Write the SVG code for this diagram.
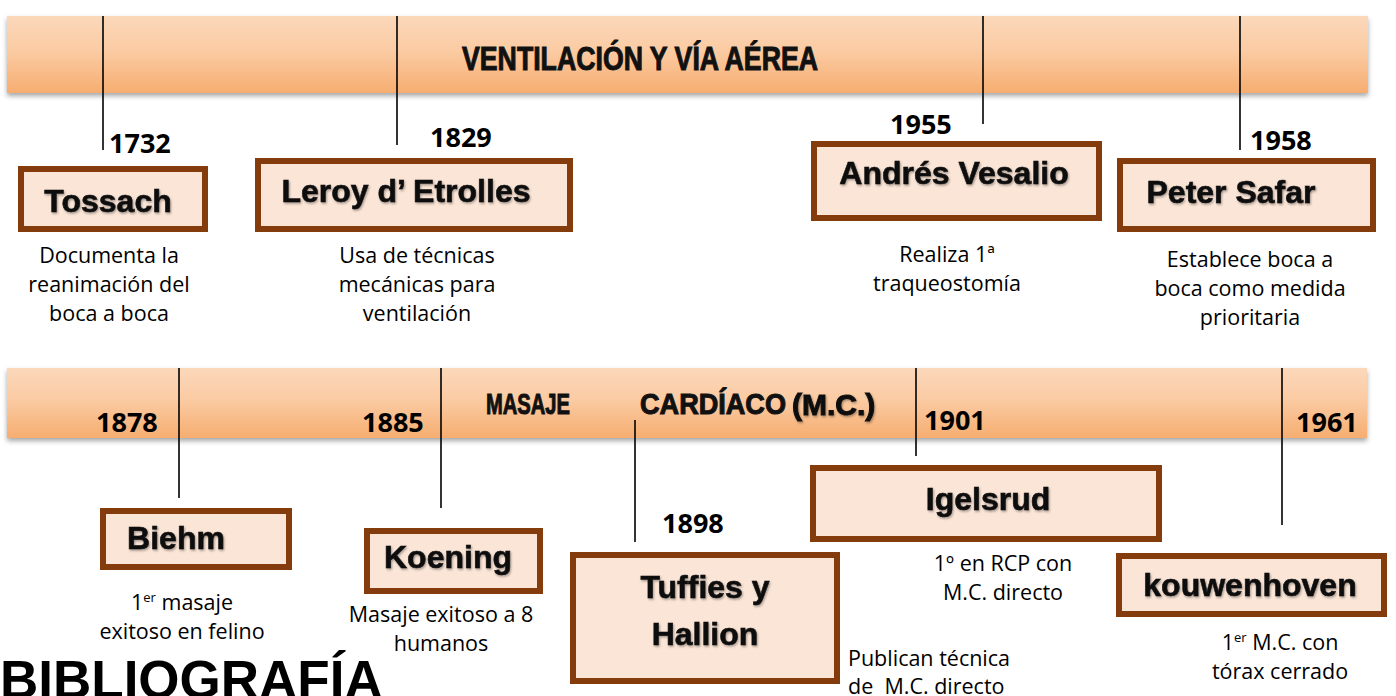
<svg xmlns="http://www.w3.org/2000/svg" width="1396" height="696" viewBox="0 0 1396 696">
<defs>
<linearGradient id="bandGrad" x1="0" y1="0" x2="0" y2="1">
<stop offset="0" stop-color="#fbd8bb"/>
<stop offset="0.45" stop-color="#fbcba3"/>
<stop offset="1" stop-color="#f6ad70"/>
</linearGradient>
<filter id="shadow" x="-5%" y="-20%" width="110%" height="150%">
<feDropShadow dx="0" dy="3" stdDeviation="2.5" flood-color="#000" flood-opacity="0.35"/>
</filter>
<filter id="txtShadow" x="-5%" y="-20%" width="110%" height="150%">
<feDropShadow dx="1" dy="1.5" stdDeviation="0.8" flood-color="#000" flood-opacity="0.35"/>
</filter>
</defs>
<style>
.band{fill:url(#bandGrad);filter:url(#shadow);}
.box{fill:#fbe5d6;stroke:#843c0c;stroke-width:6;}
.name{font-family:"Liberation Sans",Arial,sans-serif;font-weight:700;font-size:32px;fill:#111;text-anchor:middle;stroke:#111;stroke-width:0.6;filter:url(#txtShadow);}
.year{font-family:"Open Sans","Liberation Sans",sans-serif;font-weight:700;font-size:27px;fill:#000;}
.desc{font-family:"Open Sans","Liberation Sans",sans-serif;font-size:21.5px;fill:#000;text-anchor:middle;}
.descl{font-family:"Open Sans","Liberation Sans",sans-serif;font-size:21.5px;fill:#000;text-anchor:start;white-space:pre;}
.sup{font-size:13px;}
.title{font-family:"Liberation Sans",Arial,sans-serif;font-weight:700;fill:#111;stroke:#111;stroke-width:1;}
.line{stroke:#000;stroke-width:1.6;fill:none;}
</style>
<rect x="0" y="0" width="1396" height="696" fill="#fff"/>

<g id="banner-ventilacion">
<rect class="band" x="7" y="16" width="1361" height="77"/>
<text class="title" x="462" y="70" font-size="33" textLength="356" lengthAdjust="spacingAndGlyphs">VENTILACIÓN Y VÍA AÉREA</text>
</g>
<g id="banner-masaje">
<rect class="band" x="7" y="368" width="1360" height="70"/>
<text class="title" x="486" y="414" font-size="29" textLength="84" lengthAdjust="spacingAndGlyphs">MASAJE</text>
<text class="title" x="640" y="414" font-size="29" textLength="146" lengthAdjust="spacingAndGlyphs">CARDÍACO</text>
<text class="title" x="792" y="415" font-size="30" stroke-width="0.3" style="filter:url(#txtShadow)">(M.C.)</text>
</g>

<g id="connectors">
<line class="line" x1="103" y1="16" x2="103" y2="150"/>
<line class="line" x1="397" y1="16" x2="397" y2="145"/>
<line class="line" x1="983" y1="16" x2="983" y2="124"/>
<line class="line" x1="1240" y1="16" x2="1240" y2="150"/>
<line class="line" x1="179" y1="368" x2="179" y2="498"/>
<line class="line" x1="441" y1="368" x2="441" y2="508"/>
<line class="line" x1="635" y1="420" x2="635" y2="542"/>
<line class="line" x1="916" y1="368" x2="916" y2="456"/>
<line class="line" x1="1282" y1="368" x2="1282" y2="525"/>
</g>

<g id="node-tossach">
<text class="year" x="109" y="153">1732</text>
<rect class="box" x="21" y="169" width="184" height="60"/>
<text class="name" x="108" y="212">Tossach</text>
<text class="desc" x="109" y="263">Documenta la</text>
<text class="desc" x="109" y="292">reanimación del</text>
<text class="desc" x="109" y="321">boca a boca</text>
</g>

<g id="node-leroy">
<text class="year" x="430" y="147">1829</text>
<rect class="box" x="258" y="161" width="312" height="68"/>
<text class="name" x="406" y="202">Leroy d’ Etrolles</text>
<text class="desc" x="417" y="263">Usa de técnicas</text>
<text class="desc" x="417" y="292">mecánicas para</text>
<text class="desc" x="417" y="321">ventilación</text>
</g>

<g id="node-vesalio">
<text class="year" x="890" y="134">1955</text>
<rect class="box" x="814" y="144" width="285" height="74"/>
<text class="name" x="954" y="184">Andrés Vesalio</text>
<text class="desc" x="947" y="262">Realiza 1ª</text>
<text class="desc" x="947" y="291">traqueostomía</text>
</g>

<g id="node-safar">
<text class="year" x="1250" y="150">1958</text>
<rect class="box" x="1120" y="161" width="253" height="68"/>
<text class="name" x="1231" y="203">Peter Safar</text>
<text class="desc" x="1250" y="267">Establece boca a</text>
<text class="desc" x="1250" y="296">boca como medida</text>
<text class="desc" x="1250" y="325">prioritaria</text>
</g>

<g id="node-biehm">
<text class="year" x="96" y="432">1878</text>
<rect class="box" x="103" y="511" width="186" height="56"/>
<text class="name" x="176" y="549">Biehm</text>
<text class="desc" x="182" y="610">1<tspan class="sup" dy="-8">er</tspan><tspan dy="8"> masaje</tspan></text>
<text class="desc" x="182" y="639">exitoso en felino</text>
</g>

<g id="node-koening">
<text class="year" x="362" y="432">1885</text>
<rect class="box" x="367" y="531" width="173" height="60"/>
<text class="name" x="448" y="568">Koening</text>
<text class="desc" x="441" y="622">Masaje exitoso a 8</text>
<text class="desc" x="441" y="651">humanos</text>
</g>

<g id="node-tuffies">
<text class="year" x="662" y="533">1898</text>
<rect class="box" x="573" y="555" width="264" height="126"/>
<text class="name" x="705" y="598">Tuffies y</text>
<text class="name" x="705" y="645">Hallion</text>
<text class="descl" x="848" y="666">Publican técnica</text>
<text class="descl" x="848" y="694" xml:space="preserve">de  M.C. directo</text>
</g>

<g id="node-igelsrud">
<text class="year" x="924" y="430">1901</text>
<rect class="box" x="813" y="468" width="346" height="71"/>
<text class="name" x="988" y="510">Igelsrud</text>
<text class="desc" x="1003" y="571">1º en RCP con</text>
<text class="desc" x="1003" y="600">M.C. directo</text>
</g>

<g id="node-kouwenhoven">
<text class="year" x="1296" y="432">1961</text>
<rect class="box" x="1119" y="556" width="265" height="58"/>
<text class="name" x="1250" y="596">kouwenhoven</text>
<text class="desc" x="1280" y="650">1<tspan class="sup" dy="-8">er</tspan><tspan dy="8"> M.C. con</tspan></text>
<text class="desc" x="1280" y="679">tórax cerrado</text>
</g>

<g id="bibliografia">
<text x="0" y="698" font-family="Liberation Sans,Arial,sans-serif" font-weight="700" font-size="53" fill="#000">BIBLIOGRAFÍA</text>
</g>
</svg>
